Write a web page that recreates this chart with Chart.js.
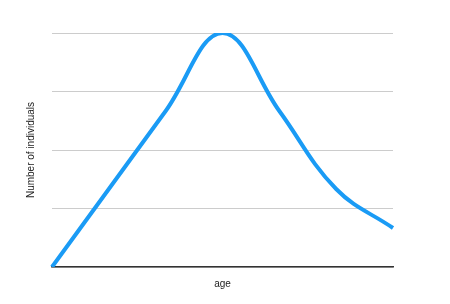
<!DOCTYPE html>
<html>
<head>
<meta charset="utf-8">
<script src="https://cdn.jsdelivr.net/npm/chart.js@4"></script>
<style>
  html, body { margin: 0; padding: 0; background: #fff; }
  #wrap { width: 450px; height: 304px; }
</style>
</head>
<body>
<div id="wrap"><canvas id="ageChart" width="450" height="304"></canvas></div>
<script>
// Age distribution (x labels are hidden in the original)
const ages = ['0', '1', '2', '3', '4', '5', '6'];
const individuals = [0, 2, 4, 6, 4, 2, 1];
const yTicks = [0, 1.5, 3, 4.5, 6];

const ctx = document.getElementById('ageChart').getContext('2d');
const ageChart = new Chart(ctx, {
    type: 'line',
    data: {
        labels: ages,
        datasets: [{
            label: 'Number of individuals',
            data: individuals,
            borderColor: 'rgb(26, 155, 245)',
            borderWidth: 4,
            pointRadius: 0,
            tension: 0.4,
            fill: false
        }]
    },
    options: {
        responsive: false,
        animation: false,
        layout: { padding: { left: 0, right: 57, top: 33, bottom: 0 } },
        plugins: {
            legend: { display: false },
            tooltip: { enabled: false }
        },
        scales: {
            x: {
                offset: false,
                grid: { display: false, drawTicks: false },
                border: { color: '#333', width: 1.5 },
                ticks: { display: false },
                title: {
                    display: true,
                    text: 'age',
                    color: '#222',
                    font: { family: 'Liberation Sans, Arial', size: 10 },
                    padding: { top: 11, bottom: 14 }
                }
            },
            y: {
                min: 0,
                max: 6,
                afterBuildTicks: axis => { axis.ticks = yTicks.map(v => ({ value: v })); },
                grid: { color: '#ccc', lineWidth: 1, drawTicks: false },
                border: { display: false },
                ticks: { display: false },
                title: {
                    display: true,
                    text: 'Number of individuals',
                    color: '#222',
                    font: { family: 'Liberation Sans, Arial', size: 10 },
                    padding: { top: 25, bottom: 15 }
                }
            }
        }
    }
});
</script>
</body>
</html>
